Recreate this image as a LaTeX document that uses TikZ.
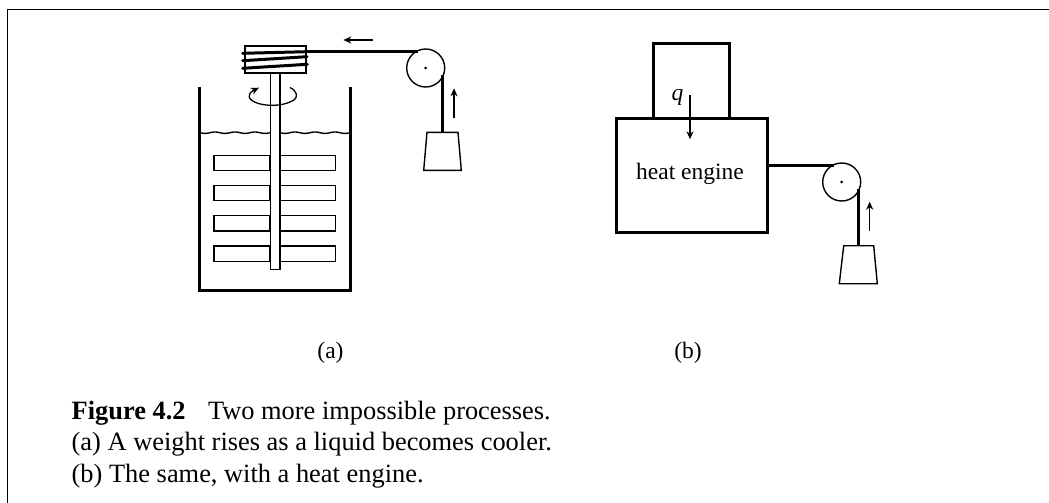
\documentclass[tikz,border=0pt]{standalone}
\usepackage{fontspec}
\setmainfont{Liberation Serif}
\usetikzlibrary{arrows.meta,calc}
\tikzset{
  thinl/.style={line width=1.4pt},
  thickl/.style={line width=3pt},
  rope/.style={line width=3pt},
  motion/.style={line width=1.1pt,-{Stealth[length=8pt,width=7pt,inset=2.5pt]}},
  lbl/.style={inner sep=0pt,anchor=base,font=\fontsize{23.5}{28}\selectfont},
  capt/.style={inner sep=0pt,anchor=base west,font=\fontsize{26.4}{32}\selectfont},
  pulley/.style={circle,draw,line width=1.4pt,minimum size=38pt,inner sep=0pt},
  boxn/.style={rectangle,draw,inner sep=0pt,anchor=north west}
}
\begin{document}
\begin{tikzpicture}[x=1pt,y=-1pt]
\useasboundingbox (0,0) rectangle (1049,503);
% frame
\draw[line width=1.3pt] (7.3,503) -- (7.3,9.5) -- (1049,9.5);
% (a) tank
\draw[thickl] (199,87.3) -- (199,290.7) -- (350.3,290.7) -- (350.3,87.3);
% water
\draw[thinl] plot[domain=200:270,samples=70,smooth] (\x,{132.7+0.7*sin(18*\x)});
\draw[thinl] plot[domain=279.5:349.5,samples=70,smooth] (\x,{132.7+0.7*sin(18*\x)});
% paddles
\foreach \yy in {155.3,185.3,215.7,246}{
  \draw[thinl] (214,\yy) rectangle (270,\yy+15.2);
  \draw[thinl] (279.3,\yy) rectangle (335.3,\yy+15.2);
}
% shaft
\node[boxn,thinl,fill=white,minimum width=9.3pt,minimum height=196.7pt] (shaft) at (270,72.3) {};
% coil box
\node[boxn,thinl,fill=white,minimum width=61pt,minimum height=27pt] (coil) at (244.3,45.3) {};
\draw[rope,line cap=round] (242.6,53.3) -- (306.5,51.7);
\draw[rope,line cap=round] (242.7,60.7) -- (307,56.7);
\draw[rope,line cap=round] (242.7,68.3) -- (307.3,64.3);
% rotation arrow
\draw[line width=1.3pt,-{Stealth[length=8pt,width=7pt,inset=2.5pt]}] (290,87.5)
  .. controls (297,91) and (299,97) .. (293,100.5)
  .. controls (282,107) and (265,106) .. (257,103)
  .. controls (248,100) and (246,94) .. (259,87.7);
% pulley a
\node[pulley] (pa) at (425.7,68) {};
\fill (pa.center) circle (1.5pt);
\coordinate (pat) at (418,51.7);
\draw[rope] (coil.east |- pat) -- (pat);
\coordinate (wat) at (442.3,132.3);
\draw[rope] (442.3,75) -- (wat);
\draw[thinl,fill=white] (427,132.3) -- (458,132.3) -- (461.3,170.3) -- (423.7,170.3) -- cycle;
\draw[motion] (373,40) -- (343.3,40);
\draw[motion] (454,117.7) -- (454,88.3);
% (b)
\node[boxn,thickl,minimum width=76pt,minimum height=75.3pt] (hot) at (652.3,42) {};
\node[boxn,thickl,fill=white,minimum width=151.3pt,minimum height=113.4pt] (eng) at (614.7,117.3) {};
\node[lbl] (etext) at (690,179.3) {heat engine};
\node[lbl,font=\fontsize{23.5}{28}\selectfont\itshape] (q) at (677.5,100) {q};
\draw[motion] (690,95) -- (690,139.3);
\node[pulley] (pb) at (841.7,182) {};
\fill (pb.center) circle (1.5pt);
\coordinate (pbt) at (834,165);
\draw[rope] (eng.east |- pbt) -- (pbt);
\coordinate (wbt) at (858.3,245.7);
\draw[rope] (858.3,189) -- (wbt);
\draw[thinl,fill=white] (843.7,245.7) -- (873.7,245.7) -- (877.3,283.7) -- (839.3,283.7) -- cycle;
\draw[motion] (869.7,230.7) -- (869.7,201.7);
% labels
\node[lbl] (la) at (330.5,358.3) {(a)};
\node[lbl] (lb) at (688,358.3) {(b)};
% caption
\node[capt] (c1) at (71.5,419.3) {\textbf{Figure 4.2}\hspace{0.85em}Two more impossible processes.};
\node[capt] (c2) at (71.5,450.7) {(a) A weight rises as a liquid becomes cooler.};
\node[capt] (c3) at (71.5,482) {(b) The same, with a heat engine.};
\end{tikzpicture}
\end{document}
